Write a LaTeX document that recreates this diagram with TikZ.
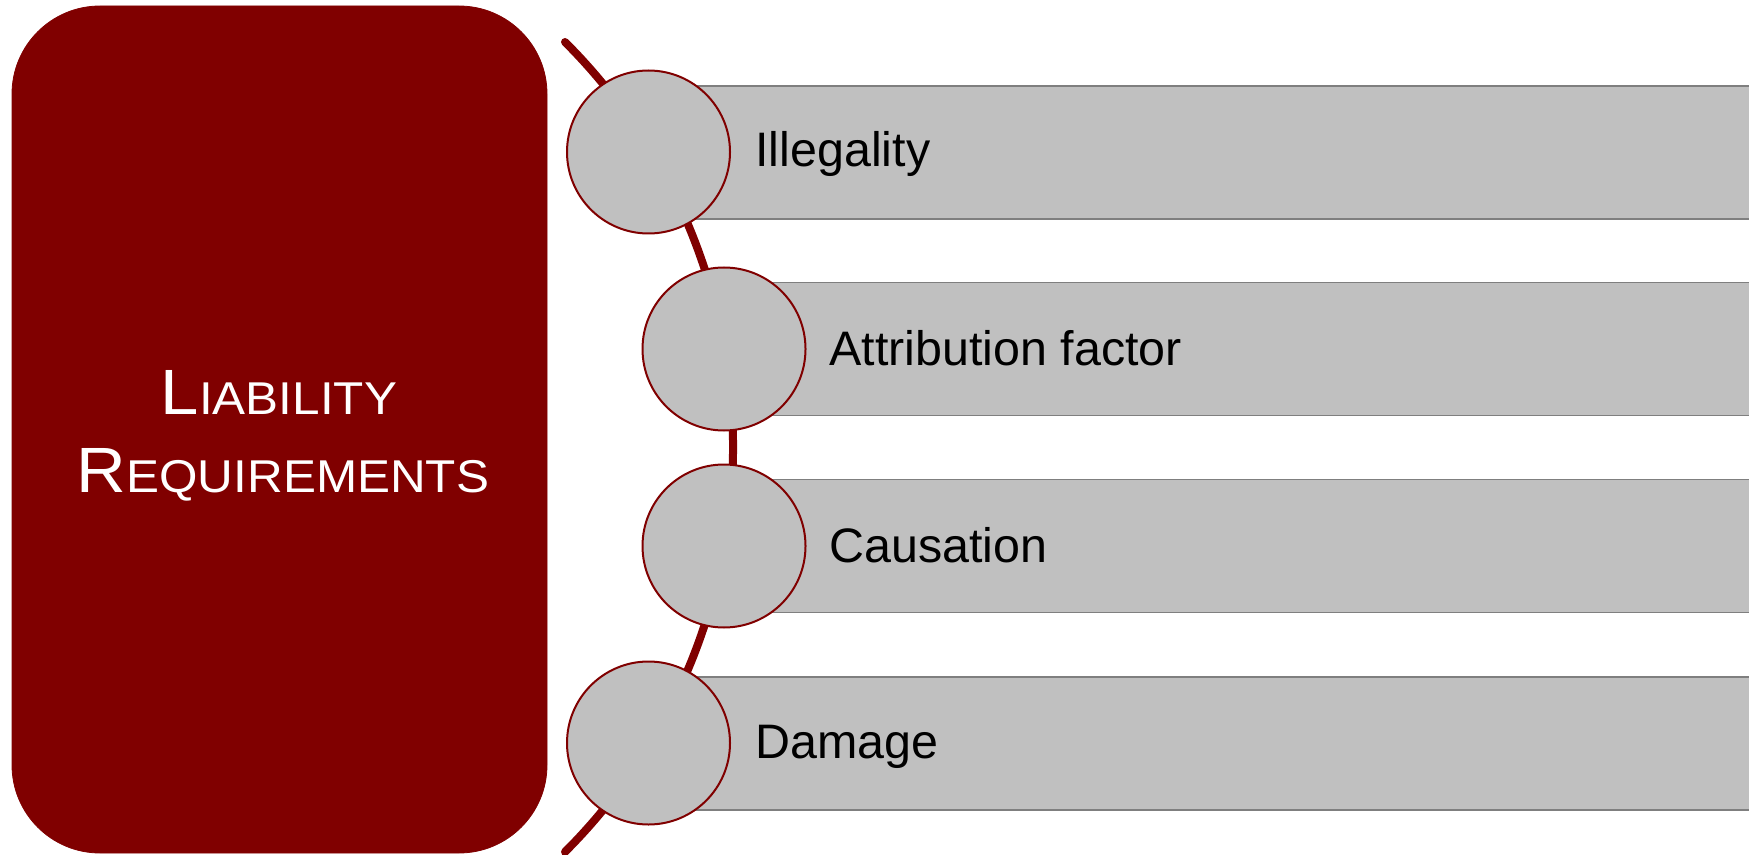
\documentclass[tikz,border=0pt]{standalone}
\usepackage{graphicx}
\usepackage{fontspec}
\setmainfont{Liberation Sans}
\definecolor{liabred}{HTML}{800000}
\definecolor{bargrey}{HTML}{C0C0C0}
\definecolor{baredge}{HTML}{7F7F7F}
% fake small caps: first letter large, rest smaller, slightly widened
\newcommand{\scword}[2]{\scalebox{1.075}[1]{{\fontsize{32}{36}\selectfont #1}{\fontsize{23}{27}\selectfont #2}}}
\begin{document}
\begin{tikzpicture}[x=0.5pt,y=-0.5pt,
  titlebox/.style={fill=liabred,draw=liabred,rounded corners=44pt,
    minimum width=267.5pt,minimum height=423.5pt,inner sep=0pt},
  titletext/.style={text=white,inner sep=0pt,anchor=base},
  spine/.style={draw=liabred,line width=4pt,line cap=round},
  bar/.style={fill=bargrey,draw=baredge,line width=0.8pt,anchor=west,
    minimum width=600pt,minimum height=66.5pt,inner sep=0pt},
  dot/.style={circle,fill=bargrey,draw=liabred,line width=1pt,
    minimum size=81.5pt,inner sep=0pt},
  itemtext/.style={anchor=base west,inner sep=0pt,text=black,
    font=\fontsize{24.2}{29}\selectfont}]
\useasboundingbox (0,0) rectangle (1749,855);

% left block with its heading
\node[titlebox] (title) at (279.5,429.5) {};
\node[titletext] (line1) at (279,415) {\scword{L}{IABILITY}};
\node[titletext] (line2) at (283,492) {\scword{R}{EQUIREMENTS}};

% curved spine behind the circles
\coordinate (arctop) at (565,42);
\draw[spine] (arctop) arc[start angle=45.07,end angle=-45.07,radius=286pt];

% item bars
\node[bar] (bar1) at (648.5,152.5) {};
\node[bar] (bar2) at (724,349) {};
\node[bar] (bar3) at (724,546) {};
\node[bar] (bar4) at (648.5,743.5) {};

% circles on the spine
\node[dot] (c1) at (648.5,152) {};
\node[dot] (c2) at (724,349) {};
\node[dot] (c3) at (724,546) {};
\node[dot] (c4) at (648.5,743) {};

% item labels
\node[itemtext] (t1) at (755,167) {Illegality};
\node[itemtext] (t2) at (829,365) {Attribution factor};
\node[itemtext] (t3) at (829,562) {Causation};
\node[itemtext] (t4) at (755,758) {Damage};
\end{tikzpicture}
\end{document}
